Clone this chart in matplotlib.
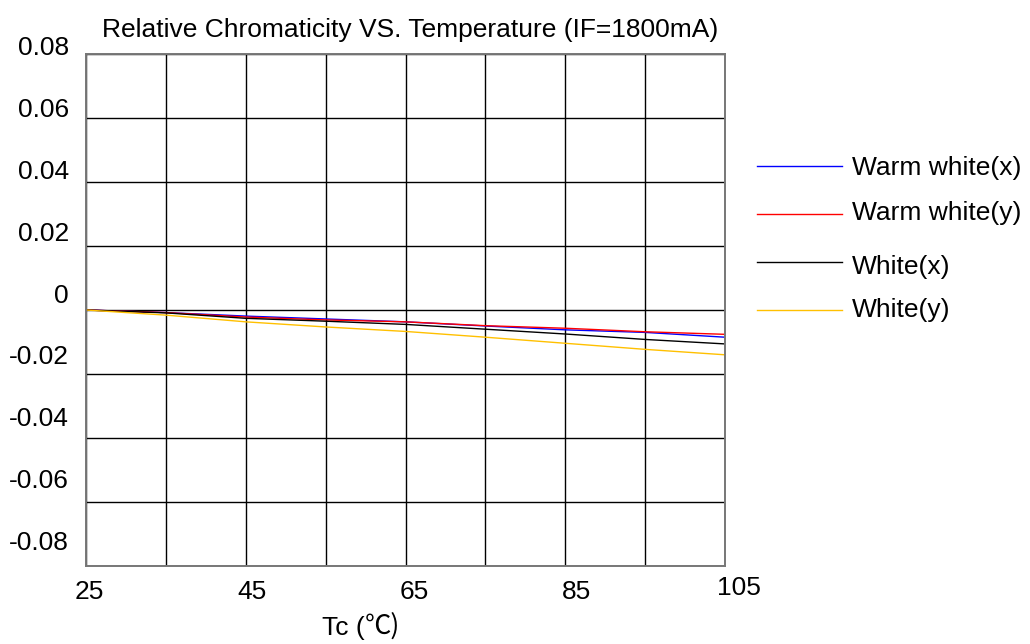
import matplotlib
matplotlib.use("Agg")
import matplotlib.pyplot as plt
import numpy as np

plt.rcParams['font.family'] = ['Liberation Sans', 'DejaVu Sans']

# ---- data ----
temps = [25, 35, 45, 55, 65, 75, 85, 95, 105]
warm_white_x = [0, -0.0008, -0.0019, -0.0028, -0.0037, -0.0050, -0.0062, -0.0070, -0.0085]
warm_white_y = [0, -0.0008, -0.0022, -0.0031, -0.0037, -0.0049, -0.0057, -0.0068, -0.0076]
white_x = [0, -0.0009, -0.0026, -0.0035, -0.0045, -0.0060, -0.0075, -0.0092, -0.0106]
white_y = [0, -0.0016, -0.0037, -0.0053, -0.0067, -0.0085, -0.0104, -0.0123, -0.0140]

series_names = ["Warm white(x)", "Warm white(y)", "White(x)", "White(y)"]
series_colors = ["#0000ff", "#ff0000", "#000000", "#ffc000"]

xtick_labels = ["25", "45", "65", "85", "105"]
ytick_labels = ["0.08", "0.06", "0.04", "0.02", "0", "-0.02", "-0.04", "-0.06", "-0.08"]

title = "Relative Chromaticity VS. Temperature (IF=1800mA)"
xlabel_main = "Tc ("
xlabel_unit = "\u2103)"

W, H = 1030, 644
fig = plt.figure(figsize=(W / 100, H / 100), dpi=100)
ax = fig.add_axes([86 / W, 1 - 566 / H, (725 - 86) / W, (566 - 54) / H])
ax.set_xlim(25, 105)
ax.set_ylim(-0.08, 0.08)
ax.set_xticks(np.arange(25, 106, 10))
ax.set_yticks(np.linspace(-0.08, 0.08, 9))
ax.tick_params(length=0, labelbottom=False, labelleft=False)
ax.grid(True, color="black", linewidth=1.0)
for s in ax.spines.values():
    s.set_color("#777777")
    s.set_linewidth(1.4)

for vals, name, col in zip([warm_white_x, warm_white_y, white_x, white_y], series_names, series_colors):
    ax.plot(temps, vals, color=col, linewidth=1.0, label=name)

fs = 19
# y tick labels (placed as in the reference, slightly above gridlines)
for i, lab in enumerate(ytick_labels):
    ypx = 48 + i * 61.9
    fig.text(69 / W, 1 - ypx / H, lab, ha="right", va="center", fontsize=fs)
# x tick labels
for i, lab in enumerate(xtick_labels):
    xpx = 89.5 + i * 162.4
    ypx = 592 if i < len(xtick_labels) - 1 else 588
    fig.text(xpx / W, 1 - ypx / H, lab, ha="center", va="center", fontsize=fs)

fig.text(365 / W, 1 - 628 / H, xlabel_main, ha="right", va="center", fontsize=fs)
fig.text(365 / W, 1 - 626 / H, xlabel_unit, ha="left", va="center", fontsize=fs,
         family=['Noto Sans CJK SC', 'DejaVu Sans'])
fig.text(410 / W, 1 - 30 / H, title, ha="center", va="center", fontsize=fs)

# legend (manual, outside right)
leg_y = [166, 214, 262, 310]
leg_text_y = [168, 213, 267, 310]
for i, (name, col) in enumerate(zip(series_names, series_colors)):
    fig.add_artist(plt.Line2D([757 / W, 842 / W], [1 - leg_y[i] / H] * 2, color=col, linewidth=1.0))
    fig.text(852 / W, 1 - leg_text_y[i] / H, name, ha="left", va="center", fontsize=fs)

fig.savefig("out.png", dpi=100)
